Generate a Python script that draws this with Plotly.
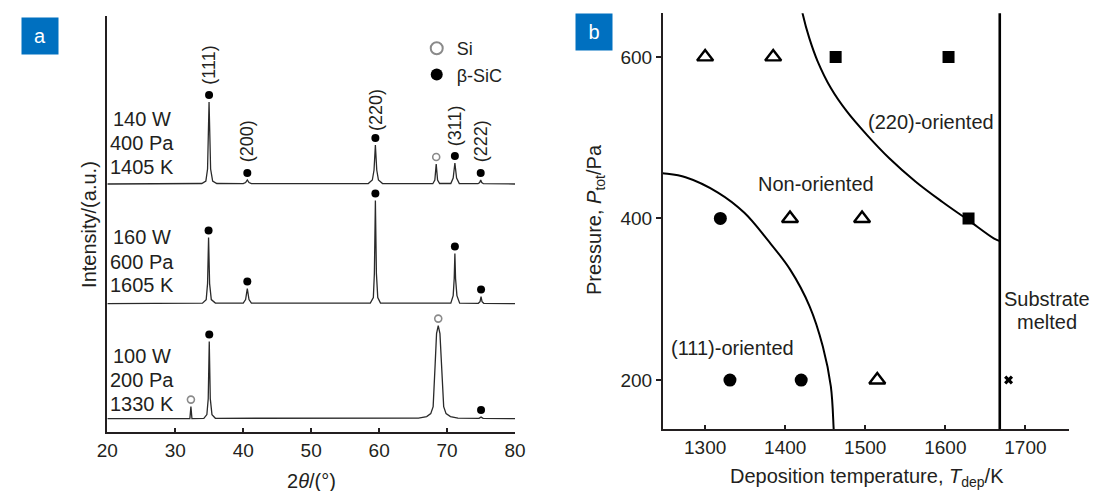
import plotly.graph_objects as go

W, H = 1101, 491
INK = "#231f20"
FONT = "Liberation Sans, Arial, sans-serif"

# ---------------- Panel a: XRD patterns (2theta, intensity in a.u.) ----------------
tt_140 = [20, 33.9, 34.5, 34.75, 34.97, 35.2, 35.5, 36.1, 40.0, 40.35, 40.6, 40.85, 41.2,
          58.4, 59.0, 59.25, 59.45, 59.65, 59.9, 60.5, 67.9, 68.2, 68.4, 68.6, 68.9,
          70.55, 70.9, 71.15, 71.4, 71.8, 74.55, 74.8, 74.95, 75.1, 75.35, 80]
int_140 = [0, 0.5, 3, 15, 82, 15, 3, 0.5, 0.3, 1.5, 4, 1.5, 0.3,
           0.5, 4, 14, 39, 14, 4, 0.5, 0.3, 4, 20, 4, 0.5,
           0.5, 6, 21, 6, 0.5, 0.3, 1.5, 4, 1.5, 0.3, 0]

tt_160 = [20, 34.0, 34.55, 34.75, 34.9, 35.05, 35.3, 35.9, 40.0, 40.35, 40.6, 40.85, 41.2,
          58.7, 59.15, 59.3, 59.45, 59.6, 59.8, 60.2, 70.55, 70.9, 71.05, 71.15, 71.25, 71.45, 71.85,
          74.6, 74.85, 75.0, 75.15, 75.4, 80]
int_160 = [0, 0.5, 4, 20, 66, 20, 4, 0.5, 0.5, 4, 15, 4, 0.5,
           0.5, 6, 30, 103, 30, 6, 0.5, 0.5, 8, 25, 50, 25, 8, 0.5,
           0.3, 2, 7, 2, 0.3, 0]

tt_100 = [20, 32.15, 32.3, 32.45, 34.2, 34.65, 34.85, 35.0, 35.15, 35.4, 35.9,
          65.8, 67.0, 67.6, 67.95, 68.1, 68.25, 68.45, 68.7, 68.95, 69.15, 69.3, 69.5, 69.85, 70.5, 71.6,
          74.7, 75.0, 75.3, 80]
int_100 = [0, 0, 12, 0, 0.3, 4, 20, 77, 20, 4, 0.3,
           0.5, 2, 5, 12, 28, 55, 85, 93, 85, 55, 28, 12, 5, 2, 0.5,
           0.2, 1.5, 0.2, 0]

sample_lines = [["140 W", "400 Pa", "1405 K"], ["160 W", "600 Pa", "1605 K"], ["100 W", "200 Pa", "1330 K"]]
sample_line_y = [[313.4, 289, 265], [195, 170, 146.7], [75.7, 52.4, 28.4]]
offsets = [248, 128.4, 13.4]          # vertical stacking of the patterns

# identified reflections: (2theta, peak intensity)
sic_140_x = [34.97, 40.6, 59.45, 71.15, 74.95]; sic_140_y = [82, 4, 39, 21, 4]
si_140_x = [68.4];                             si_140_y = [20]
sic_160_x = [34.9, 40.6, 59.45, 71.15, 75.0];  sic_160_y = [66, 15, 103, 50, 7]
si_160_x = [];                                 si_160_y = []
sic_100_x = [35.0, 75.0];                      sic_100_y = [77, 1.5]
si_100_x = [32.3, 68.7];                       si_100_y = [12, 93]

hkl_labels = ["(111)", "(200)", "(220)", "(311)", "(222)"]
hkl_x = [34.97, 40.6, 59.45, 71.15, 74.95]
hkl_y = [366.4, 291, 322.4, 306.7, 290.4]

# ---------------- Panel b: orientation map ----------------
non_T = [1300, 1385, 1406, 1496, 1515]; non_P = [600, 600, 400, 400, 200]
o220_T = [1463, 1604, 1629];             o220_P = [600, 600, 400]
o111_T = [1319, 1331, 1420];             o111_P = [400, 200, 200]
melt_T = [1679];                         melt_P = [200]
melt_limit_T = 1668

b111_T = [1240, 1247, 1275.5, 1316, 1349, 1377.5, 1406, 1430.6, 1447, 1457, 1460.4, 1461]
b111_P = [457, 456, 451, 432, 407, 374, 337, 291, 241.5, 192, 142, 125]
b220_T = [1419, 1422, 1430, 1440.5, 1457, 1477, 1502, 1530, 1563, 1596, 1628.5, 1661, 1668]
b220_P = [668, 652.6, 623.6, 594.6, 561.5, 532.5, 503.5, 474.5, 445.5, 420.7, 398, 375, 372]

region_text = ["(220)-oriented", "Non-oriented", "(111)-oriented", "Substrate", "melted"]
region_T = [1582, 1439, 1334, 1727, 1727]
region_P = [519, 443, 240, 300, 272]

fig = go.Figure()

GAP = 7
si_mx, si_my, sic_mx, sic_my = [], [], [], []
for tt, inten, off, sx, sy, ix, iy in [
    (tt_140, int_140, offsets[0], sic_140_x, sic_140_y, si_140_x, si_140_y),
    (tt_160, int_160, offsets[1], sic_160_x, sic_160_y, si_160_x, si_160_y),
    (tt_100, int_100, offsets[2], sic_100_x, sic_100_y, si_100_x, si_100_y),
]:
    fig.add_trace(go.Scatter(x=tt, y=[v + off for v in inten], mode="lines",
                             line=dict(color="#2a2a2a", width=1.3), showlegend=False,
                             hoverinfo="skip", xaxis="x", yaxis="y"))
    sic_mx += sx; sic_my += [v + off + GAP for v in sy]
    si_mx += ix; si_my += [v + off + GAP for v in iy]

fig.add_trace(go.Scatter(x=si_mx, y=si_my, mode="markers", name="Si",
                         marker=dict(symbol="circle", size=7, color="white",
                                     line=dict(color="#8a8a8a", width=1.6)),
                         xaxis="x", yaxis="y"))
fig.add_trace(go.Scatter(x=sic_mx, y=sic_my, mode="markers", name="β-SiC",
                         marker=dict(symbol="circle", size=8, color="black", line=dict(width=0)),
                         xaxis="x", yaxis="y"))

# panel b
fig.add_trace(go.Scatter(x=b111_T, y=b111_P, mode="lines", line=dict(color="black", width=2, shape="spline"),
                         showlegend=False, xaxis="x2", yaxis="y2"))
fig.add_trace(go.Scatter(x=b220_T, y=b220_P, mode="lines", line=dict(color="black", width=2, shape="spline"),
                         showlegend=False, xaxis="x2", yaxis="y2"))
fig.add_shape(type="line", xref="x2", yref="y2 domain", x0=melt_limit_T, x1=melt_limit_T, y0=0, y1=1,
              line=dict(color="black", width=2.6))
fig.add_trace(go.Scatter(x=non_T, y=non_P, mode="markers", showlegend=False, xaxis="x2", yaxis="y2",
                         marker=dict(symbol="triangle-up-open", size=14, color="black", line=dict(width=2.4))))
fig.add_trace(go.Scatter(x=o220_T, y=o220_P, mode="markers", showlegend=False, xaxis="x2", yaxis="y2",
                         marker=dict(symbol="square", size=12, color="black")))
fig.add_trace(go.Scatter(x=o111_T, y=o111_P, mode="markers", showlegend=False, xaxis="x2", yaxis="y2",
                         marker=dict(symbol="circle", size=13, color="black")))
fig.add_trace(go.Scatter(x=melt_T, y=melt_P, mode="markers", showlegend=False, xaxis="x2", yaxis="y2",
                         marker=dict(symbol="x", size=8, color="black", line=dict(width=0))))

C = dict(xanchor="center", yanchor="middle", showarrow=False)
ann = []
for lines, ys in zip(sample_lines, sample_line_y):
    for txt, y in zip(lines, ys):
        ann.append(dict(x=25.12, y=y, xref="x", yref="y", text=txt, font=dict(size=20, color=INK), **C))
for txt, x, y in zip(hkl_labels, hkl_x, hkl_y):
    ann.append(dict(x=x, y=y, xref="x", yref="y", text=txt, textangle=-90, font=dict(size=18, color=INK), **C))
for txt, x, y in zip(region_text, region_T, region_P):
    ann.append(dict(x=x, y=y, xref="x2", yref="y2", text=txt, font=dict(size=20, color=INK), **C))
# axis titles and panel tags
ann += [
    dict(x=307 / W, y=1 - 481 / H, xref="paper", yref="paper", text="2<i>θ</i>/(°)",
         font=dict(size=20, color=INK), **C),
    dict(x=79 / W, y=1 - 224.5 / H, xref="paper", yref="paper", text="Intensity/(a.u.)", textangle=-90,
         font=dict(size=20, color=INK), **C),
    dict(x=873 / W, y=1 - 477.5 / H, xref="paper", yref="paper",
         text="Deposition temperature, <i>T</i><sub>dep</sub>/K", font=dict(size=20, color=INK), **C),
    dict(x=596 / W, y=1 - 220 / H, xref="paper", yref="paper",
         text="Pressure, <i>P</i><sub>tot</sub>/Pa", textangle=-90, font=dict(size=20, color=INK), **C),
    dict(x=29.3 / W, y=1 - 35.8 / H, xref="paper", yref="paper", text="a", width=36, height=36, borderpad=0,
         bgcolor="#0070c0", font=dict(size=20, color="white"), **C),
    dict(x=595.2 / W, y=1 - 32 / H, xref="paper", yref="paper", text="b", width=36, height=36, borderpad=0,
         bgcolor="#0070c0", font=dict(size=20, color="white"), **C),
]

axis_common = dict(showgrid=False, zeroline=False, showline=True, linecolor=INK, linewidth=1.5,
                   tickcolor=INK, tickwidth=1.5, tickfont=dict(size=19, color=INK))
fig.update_layout(
    width=W, height=H, margin=dict(l=0, r=0, t=0, b=0),
    paper_bgcolor="white", plot_bgcolor="white",
    font=dict(family=FONT, color=INK),
    xaxis=dict(domain=[98.3 / W, 514.3 / W], range=[20, 80], tickvals=[20, 30, 40, 50, 60, 70, 80],
               ticks="inside", ticklen=4, anchor="y", **axis_common),
    yaxis=dict(domain=[1 - 432 / H, 1 - 16 / H], range=[0, 416], tickvals=[416], showticklabels=False,
               ticks="inside", ticklen=5, anchor="x", **axis_common),
    xaxis2=dict(domain=[665 / W, 1080 / W], range=[1247, 1755], tickvals=[1300, 1400, 1500, 1600, 1700],
                ticks="inside", ticklen=5, anchor="y2", **axis_common),
    yaxis2=dict(domain=[1 - 429.3 / H, 1 - 13.3 / H], range=[139, 654], tickvals=[200, 400, 600],
                ticks="outside", ticklen=5, anchor="x2", **axis_common),
    legend=dict(x=414 / W, y=1 - 30 / H, xanchor="left", yanchor="top", bgcolor="rgba(0,0,0,0)",
                font=dict(size=18, color=INK), itemsizing="constant", tracegroupgap=0),
    annotations=ann,
)

fig.write_html("out.html", config={"displayModeBar": False},
               post_script="document.body.style.margin='0';")
